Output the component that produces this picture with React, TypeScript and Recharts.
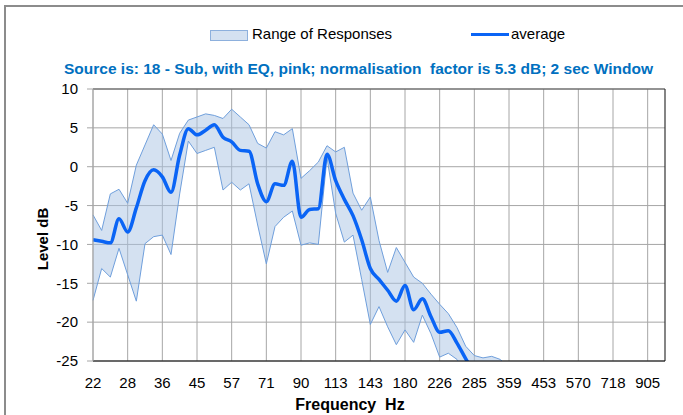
import React from "react";
import { ComposedChart, Area, Line, XAxis, YAxis, CartesianGrid, ReferenceLine } from "recharts";

// 1/12-octave frequency points (Hz)
const freqs = [
  22, 23, 25, 27, 28, 30, 32, 34, 36, 38, 40, 42, 45, 48, 50, 53, 57, 60, 63, 67,
  71, 76, 80, 85, 90, 95, 101, 107, 113, 120, 127, 135, 143, 151, 160, 170, 180, 190, 202, 214,
  226, 240, 254, 269, 285, 302, 320, 339, 359, 381, 403, 427, 453, 480, 508, 538, 570, 604, 640, 678,
  718, 761, 806, 854, 905, 959, 1016,
];

const upper = [
  -6.2, -8.2, -3.5, -2.9, -4.7, 0.2, 2.8, 5.4, 4.2, 0.8, 4.3, 6.0, 6.4, 6.8, 6.6, 6.2, 7.4, 6.4, 5.4, 3.0,
  2.4, 4.5, 4.1, 4.9, -1.5, -0.5, 0.6, 2.7, 1.9, 2.5, -3.4, -5.6, -3.9, -9.5, -13.6, -10.4, -12.3, -14.2, -15.0, -16.4,
  -17.7, -18.9, -20.7, -23.1, -24.3, -24.6, -24.4, -24.8, -26.0, -27.5, -29.0, -30.5, -32.0,
];

const average = [
  -9.4, -9.6, -9.8, -6.7, -8.4, -5.3, -1.8, -0.4, -1.3, -3.3, 1.5, 4.9, 4.1, 4.7, 5.4, 3.8, 3.2, 2.1, 2.0, -2.2,
  -4.5, -2.2, -2.4, 0.7, -6.5, -5.5, -5.4, 1.6, -1.8, -4.2, -6.3, -9.4, -13.1, -14.5, -15.9, -17.3, -15.3, -18.4, -17.0, -19.3,
  -21.3, -21.1, -22.7, -24.7, -26.5, -28.0, -29.0, -30.0, -31.0, -32.0, -33.0, -34.0, -35.0,
];

const lower = [
  -17.2, -13.1, -14.2, -10.5, -13.9, -17.3, -9.9, -9.0, -8.8, -11.3, -3.5, 3.3, 1.7, 2.1, 2.5, -3.0, -2.0, -3.0, -2.2, -7.5,
  -12.5, -7.7, -6.5, -5.7, -10.1, -9.8, -10.0, 1.2, -6.0, -9.7, -8.8, -14.5, -20.3, -18.0, -20.6, -22.9, -21.0, -22.6, -19.1, -21.5,
  -24.5, -24.0, -24.8, -26.5, -28.0, -29.0, -30.0, -31.0, -32.0, -33.0, -34.0, -35.0, -36.0,
];

const yTicks = [-25, -20, -15, -10, -5, 0, 5, 10];

const data = freqs.map((f, i) => ({
  freq: String(f),
  range: upper[i] !== undefined ? [lower[i], upper[i]] : null,
  avg: average[i] !== undefined ? average[i] : null,
}));

const font = '"Liberation Sans", Arial, sans-serif';

export default function App() {
  return (
    <div
      style={{
        position: "absolute",
        left: 0,
        top: 0,
        width: 683,
        height: 415,
        overflow: "hidden",
        background: "#fff",
        fontFamily: font,
      }}
    >
      <div
        style={{
          position: "absolute",
          left: 4,
          top: 5,
          width: 740,
          height: 440,
          border: "2px solid #8c8c8c",
        }}
      />

      {/* legend */}
      <div style={{ position: "absolute", left: 210, top: 30, width: 36, height: 9, background: "#d4e1f1", border: "1px solid #8db0dd" }} />
      <div style={{ position: "absolute", left: 252, top: 25, fontSize: 15, lineHeight: "18px", color: "#000" }}>Range of Responses</div>
      <div style={{ position: "absolute", left: 471, top: 33, width: 38, height: 3, background: "#0a64f5" }} />
      <div style={{ position: "absolute", left: 511, top: 25, fontSize: 15, lineHeight: "18px", color: "#000" }}>average</div>

      <div
        style={{
          position: "absolute",
          left: 0,
          top: 60,
          width: 717,
          textAlign: "center",
          fontSize: 15.5,
          lineHeight: "18px",
          fontWeight: "bold",
          color: "#0070c0",
          whiteSpace: "pre",
        }}
      >
        {"Source is: 18 - Sub, with EQ, pink; normalisation  factor is 5.3 dB; 2 sec Window"}
      </div>

      <div style={{ position: "absolute", left: 0, top: 0 }}>
        <ComposedChart width={683} height={415} data={data} margin={{ top: 89, right: 18, bottom: 0, left: 0 }}>
          <CartesianGrid stroke="#a6a6a6" strokeWidth={1} syncWithTicks />
          <XAxis
            dataKey="freq"
            interval={3}
            height={54}
            tickLine={false}
            tickMargin={10}
            axisLine={{ stroke: "#000", strokeWidth: 1.2 }}
            tick={{ fontSize: 15, fill: "#000", fontFamily: font }}
          />
          <YAxis
            type="number"
            domain={[-25, 10]}
            ticks={yTicks}
            allowDataOverflow
            width={93}
            tickSize={6}
            tickMargin={9}
            tickLine={{ stroke: "#a6a6a6" }}
            axisLine={{ stroke: "#a6a6a6" }}
            tick={{ fontSize: 15, fill: "#000", fontFamily: font }}
          />
          <Area
            type="linear"
            dataKey="range"
            stroke="#6f9fdc"
            strokeWidth={1}
            fill="#a9c3e3"
            fillOpacity={0.5}
            isAnimationActive={false}
            dot={false}
            activeDot={false}
          />
          <Line
            type="monotone"
            dataKey="avg"
            stroke="#0a64f5"
            strokeWidth={3.5}
            dot={false}
            activeDot={false}
            isAnimationActive={false}
          />
          <ReferenceLine y={10} stroke="#555" strokeWidth={1.2} />
          <ReferenceLine x={freqs[freqs.length - 1].toString()} stroke="#333" strokeWidth={1.2} />
        </ComposedChart>
      </div>

      <div
        style={{
          position: "absolute",
          left: 43,
          top: 239,
          transform: "translate(-50%, -50%) rotate(-90deg)",
          fontSize: 15,
          fontWeight: "bold",
          whiteSpace: "pre",
          lineHeight: "18px",
        }}
      >
        Level dB
      </div>
      <div
        style={{
          position: "absolute",
          left: 0,
          top: 396,
          width: 700,
          textAlign: "center",
          fontSize: 16,
          fontWeight: "bold",
          whiteSpace: "pre",
          lineHeight: "18px",
        }}
      >
        {"Frequency  Hz"}
      </div>
    </div>
  );
}
